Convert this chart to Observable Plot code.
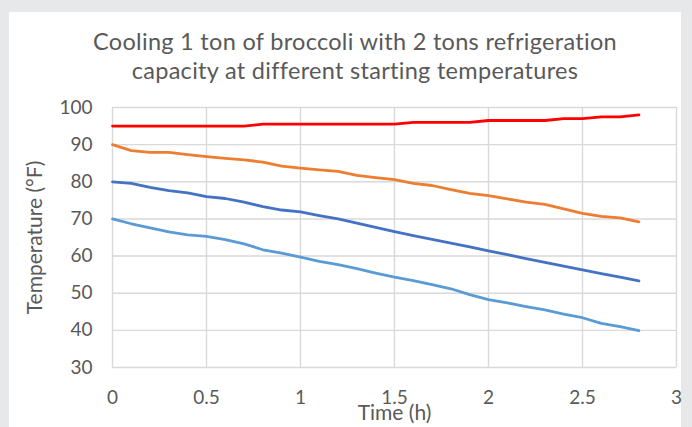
<!DOCTYPE html>
<html>
<head>
<meta charset="utf-8">
<script src="https://cdn.jsdelivr.net/npm/d3@7"></script>
<script src="https://cdn.jsdelivr.net/npm/@observablehq/plot@0.6"></script>
<style>
  html, body { margin: 0; padding: 0; background: #e7e8ea; width: 692px; height: 427px; overflow: hidden; }
  #panel { position: absolute; left: 9px; top: 12px; width: 672px; height: 415px; background: #fff; }
  #title { font-family: Lato, "Open Sans", sans-serif; font-size: 23.5px; letter-spacing: 0.3px; line-height: 29px; color: #595959;
           text-align: center; padding-top: 15px; padding-left: 20px; height: 59px; white-space: nowrap; }
  #chart svg { display: block; overflow: visible; }
</style>
</head>
<body>
<div id="panel">
  <div id="title">Cooling 1 ton of broccoli with 2 tons refrigeration<br>capacity at different starting temperatures</div>
  <div id="chart"></div>
</div>
<script>
const times = [0,0.1,0.2,0.3,0.4,0.5,0.6,0.7,0.8,0.9,1.0,1.1,1.2,1.3,1.4,1.5,1.6,1.7,1.8,1.9,2.0,2.1,2.2,2.3,2.4,2.5,2.6,2.7,2.8];
const start95 = [95,95,95,95,95,95,95,95,95.5,95.5,95.5,95.5,95.5,95.5,95.5,95.5,96,96,96,96,96.5,96.5,96.5,96.5,97,97,97.5,97.5,98];
const start90 = [90,88.4,87.9,87.9,87.3,86.8,86.3,85.9,85.3,84.2,83.7,83.2,82.8,81.7,81.1,80.6,79.6,79.0,77.9,76.9,76.3,75.4,74.5,73.9,72.7,71.5,70.7,70.3,69.2];
const start80 = [80,79.6,78.5,77.6,77,76,75.5,74.5,73.3,72.4,71.9,70.9,70.0,68.9,67.7,66.6,65.5,64.5,63.5,62.5,61.4,60.4,59.3,58.3,57.3,56.3,55.3,54.3,53.3];
const start70 = [70,68.7,67.6,66.5,65.7,65.3,64.4,63.3,61.7,60.8,59.7,58.6,57.7,56.6,55.4,54.3,53.4,52.3,51.2,49.6,48.3,47.4,46.4,45.5,44.4,43.4,41.9,41,39.9];
const seriesNames = ["95 °F", "90 °F", "80 °F", "70 °F"];
const seriesColors = ["#ff0000", "#ed7d31", "#4472c4", "#5b9bd5"];
const xTicks = [0,0.5,1,1.5,2,2.5,3];
const yTicks = [30,40,50,60,70,80,90,100];
const xTitle = "Time (h)";
const yTitle = "Temperature (°F)";

const allSeries = [start95, start90, start80, start70];
const rows = [];
allSeries.forEach((vals, i) => vals.forEach((v, j) => rows.push({series: seriesNames[i], t: times[j], temp: v})));

const font = "Lato, 'Open Sans', sans-serif";
const chart = Plot.plot({
  width: 672,
  height: 341,
  marginLeft: 103,
  marginRight: 5,
  marginTop: 21,
  marginBottom: 60,
  style: {fontFamily: font, fontSize: "19px", color: "#595959", background: "transparent", overflow: "visible"},
  x: {domain: [0, 3], ticks: xTicks, label: null},
  y: {domain: [30, 100], ticks: yTicks, label: null},
  color: {domain: seriesNames, range: seriesColors},
  marks: [
    Plot.gridX(xTicks, {stroke: "#d9d9d9", strokeOpacity: 1, strokeWidth: 1.4}),
    Plot.gridY(yTicks, {stroke: "#d9d9d9", strokeOpacity: 1, strokeWidth: 1.4}),
    Plot.axisX({ticks: xTicks, tickSize: 0, tickPadding: 23, label: null, fill: "#595959", tickFormat: d => String(d)}),
    Plot.axisY({ticks: yTicks, tickSize: 0, tickPadding: 20, label: null, fill: "#595959", tickFormat: d => String(d)}),
    Plot.line(rows, {x: "t", y: "temp", z: "series", stroke: "series", strokeWidth: 2.8, strokeLinejoin: "round", strokeLinecap: "round"}),
    Plot.text([xTitle], {frameAnchor: "bottom", textAnchor: "middle", lineAnchor: "middle", text: d => d, dy: 46, fontSize: 21, fill: "#595959"}),
    Plot.text([yTitle], {frameAnchor: "left", textAnchor: "middle", lineAnchor: "middle", text: d => d, rotate: -90, dx: -77, fontSize: 21, fill: "#595959"})
  ]
});
document.getElementById("chart").appendChild(chart);
</script>
</body>
</html>
